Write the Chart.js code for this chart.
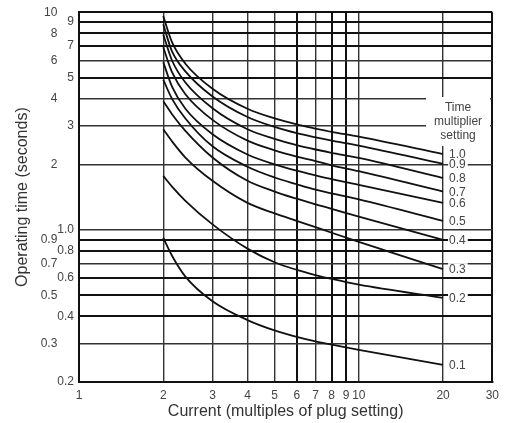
<!DOCTYPE html>
<html>
<head>
<meta charset="utf-8">
<script src="https://cdn.jsdelivr.net/npm/chart.js@4.4.1/dist/chart.umd.min.js"></script>
<style>
  html, body { margin: 0; padding: 0; background: #fff; }
  #wrap { width: 505px; height: 423px; }
</style>
</head>
<body>
<div id="wrap"><canvas id="relay"></canvas></div>
<script>
// current (multiples of plug setting) where the curves were read
const currentMultiples = [2, 2.15, 2.4, 3, 4, 5, 6, 7, 8, 10, 20];

// operating time (s) for each time multiplier setting
const tms10 = [9.6, 7.28, 5.8, 4.45, 3.6, 3.25, 3.05, 2.92, 2.82, 2.68, 2.23];
const tms09 = [8.8, 6.6, 5.35, 4.1, 3.3, 2.97, 2.78, 2.66, 2.57, 2.44, 2.01];
const tms08 = [7.9, 6.0, 4.75, 3.62, 2.9, 2.62, 2.45, 2.34, 2.26, 2.14, 1.73];
const tms07 = [6.9, 5.3, 4.2, 3.2, 2.57, 2.32, 2.17, 2.07, 1.98, 1.86, 1.5];
const tms06 = [5.9, 4.55, 3.6, 2.75, 2.22, 2.0, 1.87, 1.78, 1.71, 1.61, 1.33];
const tms05 = [4.9, 4.0, 3.25, 2.42, 1.95, 1.74, 1.62, 1.53, 1.47, 1.38, 1.1];
const tms04 = [3.9, 3.4, 2.85, 2.15, 1.68, 1.5, 1.39, 1.31, 1.25, 1.15, 0.9];
const tms03 = [2.9, 2.55, 2.15, 1.68, 1.33, 1.19, 1.1, 1.03, 0.97, 0.88, 0.66];
const tms02 = [1.77, 1.58, 1.36, 1.06, 0.82, 0.71, 0.655, 0.62, 0.595, 0.56, 0.487];
const tms01 = [0.92, 0.76, 0.61, 0.47, 0.385, 0.345, 0.322, 0.307, 0.297, 0.281, 0.24];

const tmsLabels = ['1.0', '0.9', '0.8', '0.7', '0.6', '0.5', '0.4', '0.3', '0.2', '0.1'];

const xTicks = [1, 2, 3, 4, 5, 6, 7, 8, 9, 10, 20, 30];
const yTicks = [0.2, 0.3, 0.4, 0.5, 0.6, 0.7, 0.8, 0.9, 1, 2, 3, 4, 5, 6, 7, 8, 9, 10];
const yTickLabels = ['0.2', '0.3', '0.4', '0.5', '0.6', '0.7', '0.8', '0.9', '1.0',
  '2', '3', '4', '5', '6', '7', '8', '9', '10'];

const FONT = "'Liberation Sans', Arial, sans-serif";
const series = [tms10, tms09, tms08, tms07, tms06, tms05, tms04, tms03, tms02, tms01];

// grid lines that look heavier in the original
const heavyX = [6, 8, 9, 30];
const heavyY = [0.4, 0.5, 0.6, 0.8, 0.9, 5, 7, 8, 9, 10];

const curveLabels = {
  id: 'curveLabels',
  beforeDatasetsDraw(chart) {
    // "Time multiplier setting" note sitting on the grid
    const { ctx, scales: { x, y } } = chart;
    const cx = x.getPixelForValue(20) + 15;
    const cy = y.getPixelForValue(3) - 4;
    const lines = ['Time', 'multiplier', 'setting'];
    ctx.save();
    ctx.font = `12px ${FONT}`;
    const w = Math.max(...lines.map(l => ctx.measureText(l).width)) + 16;
    ctx.fillStyle = '#fff';
    ctx.fillRect(cx - w / 2, cy - 25, w, 49);
    ctx.fillStyle = '#444';
    ctx.textAlign = 'center';
    ctx.textBaseline = 'middle';
    lines.forEach((l, i) => ctx.fillText(l, cx, cy + (i - 1) * 14));
    ctx.restore();
  },
  afterDatasetsDraw(chart) {
    const { ctx } = chart;
    ctx.save();
    ctx.font = `12px ${FONT}`;
    ctx.textBaseline = 'middle';
    chart.data.datasets.forEach((ds, i) => {
      const pts = chart.getDatasetMeta(i).data;
      const p = pts[pts.length - 1];
      const w = ctx.measureText(ds.label).width;
      ctx.fillStyle = '#fff';
      ctx.fillRect(p.x + 5, p.y - 6, w + 3, 12);
      ctx.fillStyle = '#444';
      ctx.fillText(ds.label, p.x + 6, p.y + 1);
    });
    ctx.restore();
  }
};

new Chart(document.getElementById('relay'), {
  type: 'line',
  data: {
    datasets: series.map((vals, i) => ({
      label: tmsLabels[i],
      data: currentMultiples.map((c, j) => ({ x: c, y: vals[j] })),
      borderColor: '#111',
      borderWidth: 1.8,
      pointRadius: 0,
      fill: false,
      cubicInterpolationMode: 'monotone',
    })),
  },
  options: {
    responsive: true,
    maintainAspectRatio: false,
    animation: false,
    layout: { padding: { top: 12, right: 6, left: 0, bottom: 0 } },
    plugins: {
      legend: { display: false },
      tooltip: { enabled: false },
    },
    scales: {
      x: {
        type: 'logarithmic',
        min: 1,
        max: 30,
        afterBuildTicks: s => { s.ticks = xTicks.map(v => ({ value: v })); },
        afterFit: s => { s.height = 41; },
        ticks: {
          autoSkip: false,
          maxRotation: 0,
          padding: 6,
          color: '#444',
          font: { family: FONT, size: 12 },
          callback: v => String(v),
        },
        grid: {
          drawTicks: false,
          color: c => heavyX.includes(c.tick.value) ? '#111' : '#333',
          lineWidth: c => heavyX.includes(c.tick.value) ? 2 : 1.4,
        },
        border: { color: '#111', width: 2 },
        title: {
          display: true,
          text: 'Current (multiples of plug setting)',
          color: '#333',
          font: { family: FONT, size: 16 },
          padding: { top: 0, bottom: 2 },
        },
      },
      y: {
        type: 'logarithmic',
        min: 0.2,
        max: 10,
        afterBuildTicks: s => { s.ticks = yTicks.map(v => ({ value: v })); },
        afterFit: s => { s.width = 79; },
        ticks: {
          autoSkip: false,
          padding: 5,
          color: '#444',
          font: { family: FONT, size: 12 },
          // every other label sits in a column further left, like the print
          callback: (v, i) => {
            const leftCol = [0.3, 0.5, 0.7, 0.9, 2, 4, 6, 8, 10];
            return leftCol.includes(v) ? yTickLabels[i] + '     ' : yTickLabels[i];
          },
        },
        grid: {
          drawTicks: false,
          color: c => heavyY.includes(c.tick.value) ? '#111' : '#333',
          lineWidth: c => heavyY.includes(c.tick.value) ? 2 : 1.4,
        },
        border: { color: '#111', width: 2 },
        title: {
          display: true,
          text: 'Operating time (seconds)',
          color: '#333',
          font: { family: FONT, size: 16 },
          padding: { top: 13, bottom: 0 },
        },
      },
    },
  },
  plugins: [curveLabels],
});
</script>
</body>
</html>
